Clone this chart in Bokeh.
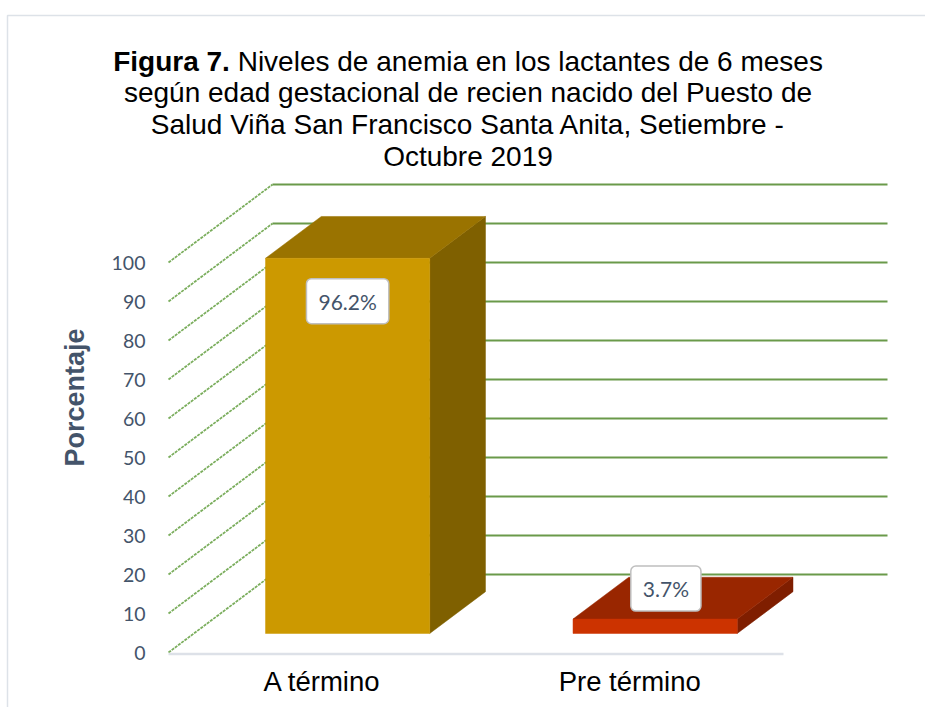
import math
from bokeh.plotting import figure
from bokeh.models import Range1d, FixedTicker, Label, LinearAxis, Grid
from bokeh.core.properties import value
from bokeh.embed import file_html
from bokeh.resources import INLINE

# ---------------- data ----------------
categories = ["A término", "Pre término"]
values = [96.2, 3.7]
y_ticks = [0, 10, 20, 30, 40, 50, 60, 70, 80, 90, 100]
title_bold = "Figura 7."
title_line1 = "Niveles de anemia en los lactantes de 6 meses"
title_lines = [
    "según edad gestacional de recien nacido del Puesto de",
    "Salud Viña San Francisco Santa Anita, Setiembre -",
    "Octubre 2019",
]
y_title = "Porcentaje"

# ---------------- layout constants ----------------
W, H = 925, 707
X0_PAGE = 168.0   # page x of category-axis origin
PX_X = 307.5      # pixels per category unit
Y0_PAGE = 652.0   # page y of value 0 (front plane)
PX_Y = 3.9        # pixels per percent unit
DX, DY = 104 / PX_X, 20.0     # 3D depth offset (data units)
BAR_W, D0, D1 = 0.534, 0.244, 0.78


def xd(px):
    return (px - X0_PAGE) / PX_X


def yd(py):
    return (Y0_PAGE - py) / PX_Y


p = figure(frame_width=W, frame_height=H,
           x_range=Range1d(xd(0), xd(W)),
           y_range=Range1d(yd(H), yd(0)),
           x_axis_location=None, y_axis_location=None,
           output_backend="svg", toolbar_location=None,
           min_border_left=0, min_border_right=0,
           min_border_top=0, min_border_bottom=0)
p.outline_line_color = None
p.background_fill_color = "white"
p.border_fill_color = "white"
p.renderers = [r for r in p.renderers if not isinstance(r, Grid)]
p.center = [r for r in p.center if not isinstance(r, Grid)]

# ---------------- axes (drawn at fixed locations inside the plot) ----------------
ya = LinearAxis(fixed_location=0, ticker=FixedTicker(ticks=y_ticks))
ya.axis_line_color = None
ya.major_tick_line_color = None
ya.minor_tick_line_color = None
ya.major_tick_out = 0
ya.major_tick_in = 0
ya.major_label_standoff = 23
ya.major_label_text_font = "Lato"
ya.major_label_text_font_size = "19.5px"
ya.major_label_text_color = "#44546A"
p.add_layout(ya, "left")

xa = LinearAxis(fixed_location=0,
                ticker=FixedTicker(ticks=[i + 0.5 for i in range(len(categories))]))
xa.major_label_overrides = {i + 0.5: c for i, c in enumerate(categories)}
xa.axis_line_color = None
xa.major_tick_line_color = None
xa.minor_tick_line_color = None
xa.major_tick_out = 0
xa.major_tick_in = 0
xa.major_label_standoff = 13
xa.major_label_text_font = "Liberation Sans"
xa.major_label_text_font_size = "27.5px"
xa.major_label_text_color = "#000000"
p.add_layout(xa, "below")

# ---------------- chart border ----------------
p.line(x=[xd(7), xd(7), xd(W)], y=[yd(H), yd(15), yd(15)],
       line_color="#dde2e8", line_width=1.5)

# ---------------- 3D grid ----------------
n = len(categories)
p.segment(x0=[0] * len(y_ticks), y0=y_ticks,
          x1=[DX] * len(y_ticks), y1=[t + DY for t in y_ticks],
          line_color="#7aad5c", line_width=1.8, line_dash="3 1")
p.segment(x0=[DX] * len(y_ticks), y0=[t + DY for t in y_ticks],
          x1=[n + DX] * len(y_ticks), y1=[t + DY for t in y_ticks],
          line_color="#6a9a4a", line_width=2)
# floor front edge
p.segment(x0=[0], y0=[-0.4], x1=[n], y1=[-0.4], line_color="#dde1e8", line_width=2.5)

# ---------------- bars ----------------
front_c = ["#CC9900", "#CC3300"]
top_c = ["#9A7300", "#992600"]
side_c = ["#7F6000", "#7F1E00"]

fx, fy, tx, ty, sx, sy = [], [], [], [], [], []
for i, v in enumerate(values):
    xl = i + 0.5 - BAR_W / 2
    xr = i + 0.5 + BAR_W / 2
    fx.append([xl + D0 * DX, xr + D0 * DX, xr + D0 * DX, xl + D0 * DX])
    fy.append([D0 * DY, D0 * DY, v + D0 * DY, v + D0 * DY])
    tx.append([xl + D0 * DX, xr + D0 * DX, xr + D1 * DX, xl + D1 * DX])
    ty.append([v + D0 * DY, v + D0 * DY, v + D1 * DY, v + D1 * DY])
    sx.append([xr + D0 * DX, xr + D1 * DX, xr + D1 * DX, xr + D0 * DX])
    sy.append([D0 * DY, D1 * DY, v + D1 * DY, v + D0 * DY])

p.patches(xs=sx, ys=sy, fill_color=side_c, line_color=side_c, line_width=0.5)
p.patches(xs=tx, ys=ty, fill_color=top_c, line_color=top_c, line_width=0.5)
p.patches(xs=fx, ys=fy, fill_color=front_c, line_color=front_c, line_width=0.5)

# ---------------- data labels ----------------
for i, v in enumerate(values):
    cx = i + 0.5 + D0 * DX
    top = v + D0 * DY
    if v > 20:
        lx, ly = cx, top - 11
    else:
        lx, ly = cx + 0.035, top + 7.8
    p.add_layout(Label(x=lx, y=ly, text=f"{v}%", text_font="Lato",
                       text_font_size="21px", text_color="#44546A",
                       text_align="center", text_baseline="middle",
                       background_fill_color="white",
                       border_line_color="#bfbfbf", border_line_width=1.5,
                       padding=(12, 10), border_radius=5))

# ---------------- y title ----------------
p.text(x=[xd(74)], y=[yd(397)], text=[y_title], angle=math.pi / 2,
       text_font=value("Liberation Sans"), text_font_style="bold",
       text_font_size=value("27px"), text_color="#44546A",
       text_align="center", text_baseline="alphabetic")

# ---------------- title ----------------
TITLE_CX = 467.5
FS = 28
# widths (Arial metrics, per 1000 em)
bold_w = 4168 * FS / 1000.0
space_w = 278 * FS / 1000.0
norm_w = 20898 * FS / 1000.0
left = TITLE_CX - (bold_w + space_w + norm_w) / 2
baselines = [60.5, 92.2, 123.9, 155.6]
p.text(x=[xd(left + bold_w)], y=[yd(baselines[0])], text=[title_bold],
       text_font=value("Liberation Sans"), text_font_size=value(f"{FS}px"),
       text_font_style="bold", text_align="right", text_baseline="alphabetic",
       text_color="#000000")
p.text(x=[xd(left + bold_w + space_w)], y=[yd(baselines[0])], text=[title_line1],
       text_font=value("Liberation Sans"), text_font_size=value(f"{FS}px"),
       text_align="left", text_baseline="alphabetic", text_color="#000000")
p.text(x=[xd(TITLE_CX)] * len(title_lines), y=[yd(b) for b in baselines[1:]],
       text=title_lines, text_font=value("Liberation Sans"),
       text_font_size=value(f"{FS}px"), text_align="center",
       text_baseline="alphabetic", text_color="#000000")

open("out.html", "w").write(file_html(p, INLINE))
